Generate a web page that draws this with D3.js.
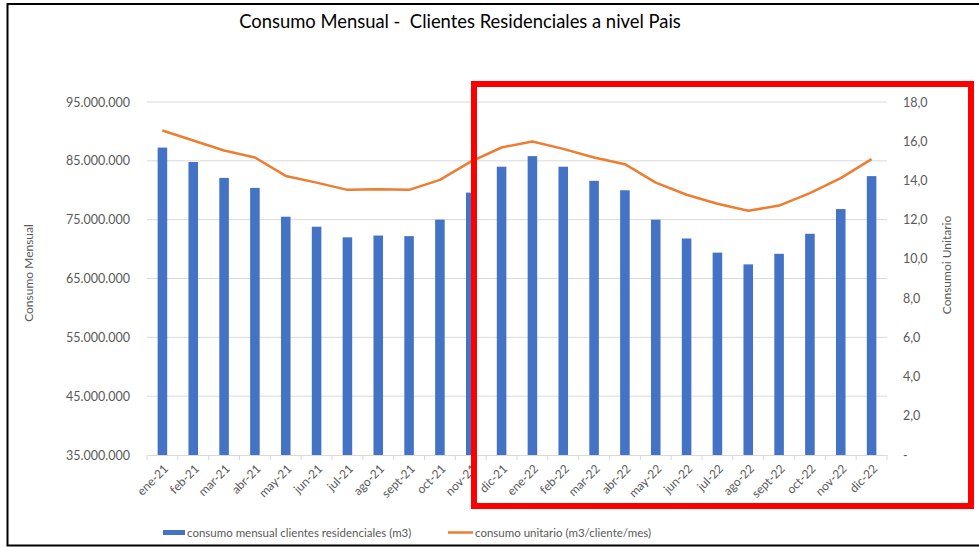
<!DOCTYPE html>
<html>
<head>
<meta charset="utf-8">
<script src="https://cdn.jsdelivr.net/npm/d3@7"></script>
<style>
  body { margin: 0; background: #fff; }
  svg text { font-family: Lato, "Open Sans", sans-serif; }
</style>
</head>
<body>
<div id="chart"></div>
<script>
const months = ["ene-21","feb-21","mar-21","abr-21","may-21","jun-21","jul-21","ago-21","sept-21","oct-21","nov-21","dic-21",
                "ene-22","feb-22","mar-22","abr-22","may-22","jun-22","jul-22","ago-22","sept-22","oct-22","nov-22","dic-22"];

// consumo mensual clientes residenciales (m3)
const consumoMensual = [87250000, 84800000, 82100000, 80400000, 75500000, 73800000, 72000000, 72300000, 72200000, 75000000, 79600000, 84000000,
                        85800000, 84000000, 81600000, 80000000, 75000000, 71800000, 69400000, 67400000, 69200000, 72600000, 76800000, 82400000];

// consumo unitario (m3/cliente/mes)
const consumoUnitario = [16.55, 16.04, 15.53, 15.17, 14.23, 13.89, 13.52, 13.55, 13.52, 14.03, 14.96, 15.68,
                         15.99, 15.61, 15.17, 14.83, 13.89, 13.27, 12.81, 12.45, 12.72, 13.35, 14.12, 15.09];

const leftTicks = [35000000, 45000000, 55000000, 65000000, 75000000, 85000000, 95000000];
const rightTicks = [0, 2, 4, 6, 8, 10, 12, 14, 16, 18];

const width = 979, height = 547;
const plot = { left: 147, right: 887, top: 102, bottom: 455 };

const svg = d3.select("#chart").append("svg")
    .attr("width", width)
    .attr("height", height);

const x = d3.scaleBand()
    .domain(months)
    .range([plot.left, plot.right])
    .paddingInner(0.69)
    .paddingOuter(0.345);

const yLeft = d3.scaleLinear().domain([35000000, 95000000]).range([plot.bottom, plot.top]);
const yRight = d3.scaleLinear().domain([0, 18]).range([plot.bottom, plot.top]);

const fmtLeft = d => d3.format(",")(d).replace(/,/g, ".");
const fmtRight = d => d === 0 ? "-" : d.toFixed(1).replace(".", ",");

// frame
svg.append("path")
    .attr("d", `M${width},4 H7.5 V545.5 H${width}`)
    .attr("fill", "none")
    .attr("stroke", "#000")
    .attr("stroke-width", 2);

// title
svg.append("text")
    .attr("x", 460).attr("y", 28)
    .attr("text-anchor", "middle")
    .attr("font-size", "18.4px")
    .attr("fill", "#000")
    .style("white-space", "pre")
    .text("Consumo Mensual -  Clientes Residenciales a nivel Pais");

// gridlines
svg.append("g")
    .selectAll("line")
    .data(leftTicks.slice(1))
    .enter().append("line")
    .attr("x1", plot.left).attr("x2", plot.right)
    .attr("y1", d => yLeft(d)).attr("y2", d => yLeft(d))
    .attr("stroke", "#d9d9d9").attr("stroke-width", 1);

// left axis
const gLeft = svg.append("g")
    .attr("transform", `translate(${plot.left},0)`)
    .call(d3.axisLeft(yLeft).tickValues(leftTicks).tickFormat(fmtLeft).tickSize(0).tickPadding(17));
gLeft.select(".domain").remove();
gLeft.selectAll("text").attr("font-size", "12.5px").attr("fill", "#595959").style("font-family", "Lato, sans-serif");

// right axis
const gRight = svg.append("g")
    .attr("transform", `translate(${plot.right},0)`)
    .call(d3.axisRight(yRight).tickValues(rightTicks).tickFormat(fmtRight).tickSize(0).tickPadding(16));
gRight.select(".domain").remove();
gRight.selectAll("text").attr("font-size", "12.5px").attr("fill", "#595959").style("font-family", "Lato, sans-serif");

// x axis
const gX = svg.append("g")
    .attr("transform", `translate(0,${plot.bottom})`)
    .call(d3.axisBottom(x).tickSize(0).tickPadding(8));
gX.select(".domain").attr("stroke", "#d9d9d9");
gX.selectAll("text")
    .attr("font-size", "12px")
    .attr("fill", "#595959")
    .style("font-family", "Lato, sans-serif")
    .attr("text-anchor", "end")
    .attr("dy", "0.35em")
    .attr("transform", "translate(-2,6) rotate(-45)");
// tick marks between categories
svg.append("g")
    .selectAll("line")
    .data(d3.range(months.length + 1))
    .enter().append("line")
    .attr("x1", i => plot.left + i * x.step())
    .attr("x2", i => plot.left + i * x.step())
    .attr("y1", plot.bottom).attr("y2", plot.bottom + 5)
    .attr("stroke", "#d9d9d9");

// bars
svg.append("g")
    .selectAll("rect")
    .data(consumoMensual)
    .enter().append("rect")
    .attr("x", (d, i) => x(months[i]))
    .attr("y", d => yLeft(d))
    .attr("width", x.bandwidth())
    .attr("height", d => plot.bottom - yLeft(d))
    .attr("fill", "#4472c4");

// line
const line = d3.line()
    .x((d, i) => x(months[i]) + x.bandwidth() / 2)
    .y(d => yRight(d));

svg.append("path")
    .datum(consumoUnitario)
    .attr("d", line)
    .attr("fill", "none")
    .attr("stroke", "#ed7d31")
    .attr("stroke-width", 2.5)
    .attr("stroke-linejoin", "round");

// axis titles
svg.append("text")
    .attr("transform", "translate(33,273) rotate(-90)")
    .attr("text-anchor", "middle")
    .attr("font-size", "12px")
    .attr("fill", "#595959")
    .text("Consumo Mensual");

svg.append("text")
    .attr("transform", "translate(951,265) rotate(-90)")
    .attr("text-anchor", "middle")
    .attr("font-size", "12px")
    .attr("fill", "#595959")
    .text("Consumoi Unitario");

// legend
const legend = svg.append("g").attr("font-size", "11.5px").attr("fill", "#595959");
legend.append("rect")
    .attr("x", 163).attr("y", 530).attr("width", 22).attr("height", 5)
    .attr("fill", "#4472c4");
legend.append("text")
    .attr("x", 187).attr("y", 536.5)
    .text("consumo mensual clientes residenciales (m3)");
legend.append("line")
    .attr("x1", 448).attr("x2", 473).attr("y1", 532.5).attr("y2", 532.5)
    .attr("stroke", "#ed7d31").attr("stroke-width", 2.5);
legend.append("text")
    .attr("x", 475).attr("y", 536.5)
    .text("consumo unitario (m3/cliente/mes)");

// red highlight box
svg.append("rect")
    .attr("x", 474).attr("y", 84)
    .attr("width", 497).attr("height", 422)
    .attr("fill", "none")
    .attr("stroke", "#ff0000")
    .attr("stroke-width", 6);
</script>
</body>
</html>
